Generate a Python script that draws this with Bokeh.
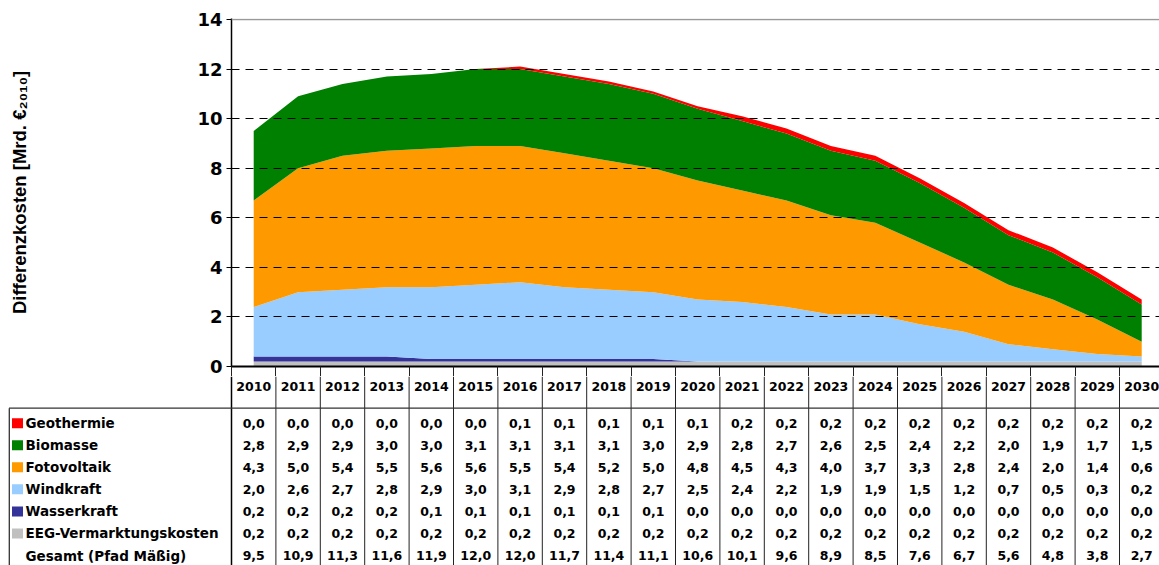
from bokeh.plotting import figure
from bokeh.models import ColumnDataSource, Range1d, FixedTicker, Span, CustomJSTickFormatter
from bokeh.core.properties import value
from bokeh.embed import file_html
from bokeh.resources import INLINE

# ---------------- data ----------------
years = ["2010", "2011", "2012", "2013", "2014", "2015", "2016", "2017", "2018", "2019", "2020",
         "2021", "2022", "2023", "2024", "2025", "2026", "2027", "2028", "2029", "2030"]
geothermie = [0.0, 0.0, 0.0, 0.0, 0.0, 0.0, 0.1, 0.1, 0.1, 0.1, 0.1, 0.2, 0.2, 0.2, 0.2, 0.2, 0.2, 0.2, 0.2, 0.2, 0.2]
biomasse = [2.8, 2.9, 2.9, 3.0, 3.0, 3.1, 3.1, 3.1, 3.1, 3.0, 2.9, 2.8, 2.7, 2.6, 2.5, 2.4, 2.2, 2.0, 1.9, 1.7, 1.5]
fotovoltaik = [4.3, 5.0, 5.4, 5.5, 5.6, 5.6, 5.5, 5.4, 5.2, 5.0, 4.8, 4.5, 4.3, 4.0, 3.7, 3.3, 2.8, 2.4, 2.0, 1.4, 0.6]
windkraft = [2.0, 2.6, 2.7, 2.8, 2.9, 3.0, 3.1, 2.9, 2.8, 2.7, 2.5, 2.4, 2.2, 1.9, 1.9, 1.5, 1.2, 0.7, 0.5, 0.3, 0.2]
wasserkraft = [0.2, 0.2, 0.2, 0.2, 0.1, 0.1, 0.1, 0.1, 0.1, 0.1, 0.0, 0.0, 0.0, 0.0, 0.0, 0.0, 0.0, 0.0, 0.0, 0.0, 0.0]
eeg = [0.2, 0.2, 0.2, 0.2, 0.2, 0.2, 0.2, 0.2, 0.2, 0.2, 0.2, 0.2, 0.2, 0.2, 0.2, 0.2, 0.2, 0.2, 0.2, 0.2, 0.2]
gesamt = [9.5, 10.9, 11.3, 11.6, 11.9, 12.0, 12.0, 11.7, 11.4, 11.1, 10.6, 10.1, 9.6, 8.9, 8.5, 7.6, 6.7, 5.6, 4.8, 3.8, 2.7]

row_labels = ["Geothermie", "Biomasse", "Fotovoltaik", "Windkraft", "Wasserkraft",
              "EEG-Vermarktungskosten", "Gesamt (Pfad Mäßig)"]
row_colors = ["#FF0000", "#008000", "#FF9900", "#99CCFF", "#333399", "#C0C0C0", None]
y_ticks = [0, 2, 4, 6, 8, 10, 12, 14]
y_label = "Differenzkosten [Mrd. €₂₀₁₀]"

# ---------------- geometry (page pixels) ----------------
W = 1159
H = 565
n = len(years)
frame_left = 231
col_w = 44.4
x_end = (W - frame_left) / col_w
y_top_px = 19.0
y0_px = 366.0
px_per_unit = (y0_px - y_top_px) / 14.0
A_h = 376
A_top = 18

xs = [i + 0.5 for i in range(n)]

# ---------------- chart ----------------
src = ColumnDataSource(dict(x=xs, eeg=eeg, wasser=wasserkraft, wind=windkraft,
                            pv=fotovoltaik, bio=biomasse, geo=geothermie))

pa = figure(width=W, height=A_h, x_range=Range1d(0, x_end),
            y_range=Range1d(0, (y0_px - A_top) / px_per_unit),
            output_backend="svg", toolbar_location=None,
            min_border_left=frame_left, min_border_right=0, min_border_top=A_top,
            min_border_bottom=A_h - int(y0_px))
pa.outline_line_color = None

stack_colors = ["#C0C0C0", "#333399", "#99CCFF", "#FF9900", "#008000", "#FF0000"]
pa.varea_stack(stackers=["eeg", "wasser", "wind", "pv", "bio", "geo"], x="x",
               color=stack_colors, source=src)

pa.xgrid.visible = False
pa.ygrid.ticker = FixedTicker(ticks=[2, 4, 6, 8, 10, 12])
pa.ygrid.grid_line_color = "#000000"
pa.ygrid.grid_line_dash = "8 6"
pa.ygrid.grid_line_width = 1
pa.ygrid.level = "overlay"
pa.add_layout(Span(location=14, dimension="width", line_color="#999999", line_width=1.5))

ya = pa.yaxis[0]
ya.ticker = FixedTicker(ticks=y_ticks)
ya.minor_tick_line_color = None
ya.major_tick_in = 0
ya.major_tick_out = 5
ya.major_tick_line_color = "#000000"
ya.axis_line_color = "#000000"
ya.axis_line_width = 1.5
ya.major_label_standoff = 4
ya.major_label_text_font = "DejaVu Sans"
ya.major_label_text_font_style = "bold"
ya.major_label_text_font_size = "18px"
ya.major_label_text_color = "#000000"
ya.axis_label = y_label
ya.axis_label_text_font = "Liberation Sans"
ya.axis_label_text_font_style = "bold"
ya.axis_label_text_font_size = "18.5px"
ya.axis_label_text_color = "#000000"
ya.axis_label_standoff = 164

xa = pa.xaxis[0]
xa.ticker = FixedTicker(ticks=list(range(0, n)))
xa.minor_tick_line_color = None
xa.major_tick_in = 0
xa.major_tick_out = 10
xa.major_tick_line_color = "#222222"
xa.axis_line_color = "#000000"
xa.axis_line_width = 2
xa.formatter = CustomJSTickFormatter(code="return ''")
xa.major_label_standoff = 0

# ---------------- table ----------------
top_page = A_h
bot_page = H
pb = figure(width=W, height=H - A_h, x_range=Range1d(-frame_left / col_w, x_end),
            y_range=Range1d(bot_page, top_page), x_axis_type=None, y_axis_type=None,
            output_backend="svg", toolbar_location=None,
            min_border_left=0, min_border_right=0, min_border_top=0, min_border_bottom=0)
pb.outline_line_color = None


def px2x(px):
    return (px - frame_left) / col_w


header_y = 385.5
hline_y = 407.7
row_y0 = 422.7
row_dy = 22.05

vx = list(range(1, n))
pb.segment(x0=vx, y0=[top_page] * len(vx), x1=vx, y1=[bot_page] * len(vx),
           line_color="#222222", line_width=1)
pb.segment(x0=[0], y0=[top_page], x1=[0], y1=[bot_page], line_color="#000000", line_width=1.5)
pb.segment(x0=[px2x(8.5)], y0=[hline_y], x1=[x_end], y1=[hline_y], line_color="#333333", line_width=1.3)
pb.segment(x0=[px2x(8.8)], y0=[hline_y], x1=[px2x(8.8)], y1=[bot_page], line_color="#333333", line_width=1.3)

txt = dict(text_font=value("DejaVu Sans"), text_font_style="bold", text_color="#000000",
           text_baseline="middle")
pb.text(x=xs, y=[header_y] * n, text=years, text_font_size="12.5px", text_align="center", **txt)

rows = [geothermie, biomasse, fotovoltaik, windkraft, wasserkraft, eeg, gesamt]
vx_, vy_, vt_ = [], [], []
for r, vals in enumerate(rows):
    yy = row_y0 + r * row_dy
    for c, v in enumerate(vals):
        vx_.append(xs[c])
        vy_.append(yy)
        vt_.append(f"{v:.1f}".replace(".", ","))
pb.text(x=vx_, y=vy_, text=vt_, text_font_size="12.5px", text_align="center", **txt)

ly = [row_y0 + r * row_dy for r in range(len(row_labels))]
pb.text(x=[px2x(25)] * len(row_labels), y=ly, text=row_labels, text_font_size="13.5px",
        text_align="left", **txt)

sq_y = [ly[i] for i, c in enumerate(row_colors) if c]
sq_c = [c for c in row_colors if c]
pb.rect(x=[px2x(17)] * len(sq_c), y=sq_y, width=11, height=10, width_units="screen",
        height_units="screen", fill_color=sq_c, line_color=None)

open("out.html", "w").write(file_html([pa, pb], INLINE))
